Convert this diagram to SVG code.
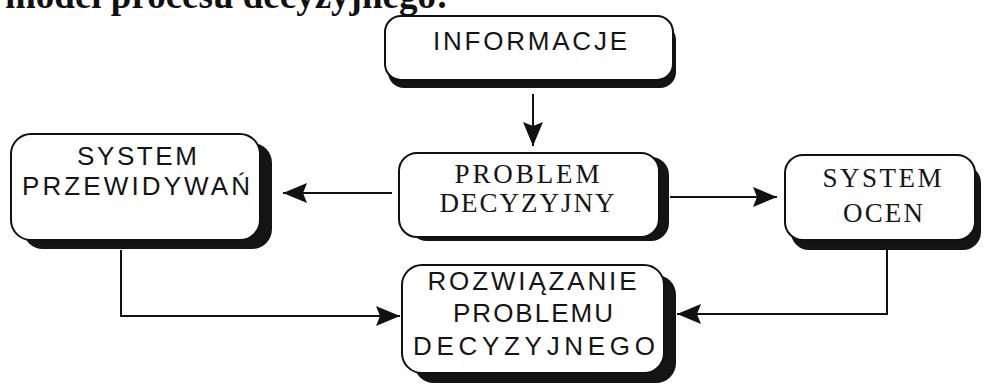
<svg xmlns="http://www.w3.org/2000/svg" width="984" height="384" viewBox="0 0 984 384">
  <style>
    .shadow { fill: #141414; }
    .box { fill: #ffffff; stroke: #111111; stroke-width: 2; }
    .lbl { fill: #151515; font-size: 26px; text-anchor: middle; }
    .sans { font-family: "Liberation Sans", "DejaVu Sans", sans-serif; }
    .serif { font-family: "Liberation Serif", "DejaVu Serif", serif; font-size: 27px; }
    .title { font-family: "Liberation Serif", "DejaVu Serif", serif; font-weight: bold; font-size: 37px; fill: #111111; }
    .conn { fill: none; stroke: #111111; stroke-width: 2; }
  </style>
  <defs>
    <marker id="arrow" viewBox="0 0 24 20" refX="24" refY="10" markerWidth="24" markerHeight="20" markerUnits="userSpaceOnUse" orient="auto">
      <path d="M0,0 L24,10 L0,20 L4,10 z" fill="#111111"/>
    </marker>
  </defs>

  <rect width="984" height="384" fill="#ffffff"/>

  <!-- heading, clipped by the top edge -->
  <text class="title" x="5" y="8">model procesu decyzyjnego:</text>

  <g id="connectors">
    <path class="conn" d="M533,94 L533,146" marker-end="url(#arrow)"/>
    <path class="conn" d="M392,193 L283,193" marker-end="url(#arrow)"/>
    <path class="conn" d="M670,197 L777,197" marker-end="url(#arrow)"/>
    <path class="conn" d="M121,250 L121,316 L400,316" marker-end="url(#arrow)"/>
    <path class="conn" d="M887,250 L887,314 L677,314" marker-end="url(#arrow)"/>
  </g>

  <g id="informacje">
    <rect class="shadow" x="388" y="24" width="288" height="64" rx="16"/>
    <rect class="box" x="385" y="16" width="288" height="64" rx="16"/>
    <text class="lbl sans" x="530" y="50" textLength="194" lengthAdjust="spacing">INFORMACJE</text>
  </g>

  <g id="system-przewidywan">
    <rect class="shadow" x="23" y="143" width="249" height="106" rx="20"/>
    <rect class="box" x="11" y="134" width="249" height="106" rx="20"/>
    <text class="lbl sans" x="137" y="165" font-size="27" textLength="120" lengthAdjust="spacing">SYSTEM</text>
    <text class="lbl sans" x="136" y="195" font-size="27" textLength="228" lengthAdjust="spacing">PRZEWIDYWAŃ</text>
  </g>

  <g id="problem-decyzyjny">
    <rect class="shadow" x="409" y="157" width="260" height="84" rx="18"/>
    <rect class="box" x="399" y="153" width="260" height="84" rx="18"/>
    <text class="lbl serif" x="527" y="183" textLength="145" lengthAdjust="spacing">PROBLEM</text>
    <text class="lbl serif" x="527" y="212" textLength="175" lengthAdjust="spacing">DECYZYJNY</text>
  </g>

  <g id="system-ocen">
    <rect class="shadow" x="791" y="165" width="190" height="85" rx="18"/>
    <rect class="box" x="785" y="155" width="190" height="85" rx="18"/>
    <text class="lbl serif" x="882" y="187" textLength="119" lengthAdjust="spacing">SYSTEM</text>
    <text class="lbl serif" x="883" y="222" textLength="80" lengthAdjust="spacing">OCEN</text>
  </g>

  <g id="rozwiazanie">
    <rect class="shadow" x="414" y="275" width="262" height="108" rx="20"/>
    <rect class="box" x="402" y="265" width="262" height="108" rx="20"/>
    <text class="lbl sans" x="532" y="290" textLength="209" lengthAdjust="spacing">ROZWIĄZANIE</text>
    <text class="lbl sans" x="533" y="322" textLength="160" lengthAdjust="spacing">PROBLEMU</text>
    <text class="lbl sans" x="534" y="355" textLength="242" lengthAdjust="spacing">DECYZYJNEGO</text>
  </g>
</svg>
